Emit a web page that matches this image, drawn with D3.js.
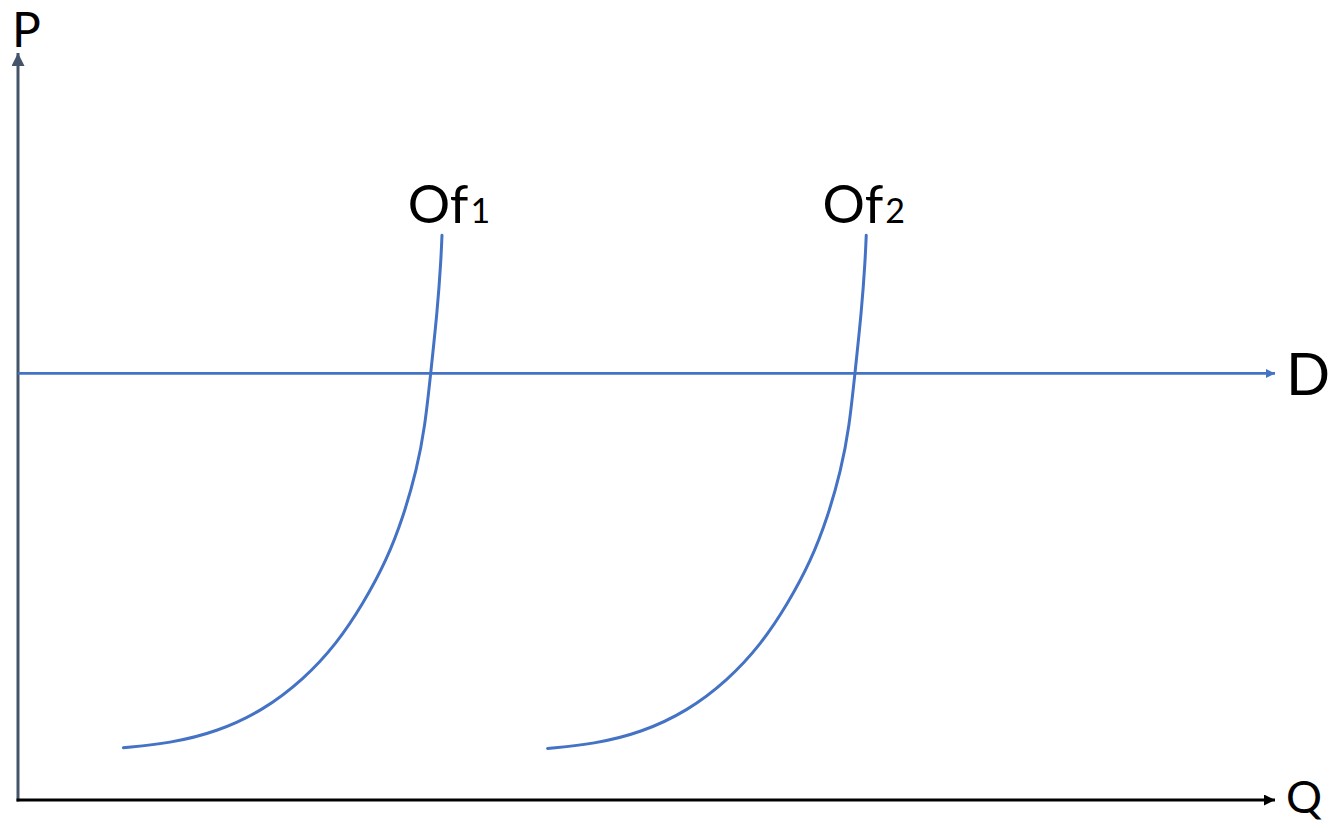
<!DOCTYPE html>
<html>
<head>
<meta charset="utf-8">
<script src="https://cdn.jsdelivr.net/npm/d3@7"></script>
<style>
  body { margin: 0; background: #fff; }
  text { font-family: Lato, "Open Sans", sans-serif; fill: #000; }
</style>
</head>
<body>
<svg id="chart" width="1334" height="826"></svg>
<script>
// values (arbitrary units, 0-100 on both axes)
const demandPrice = 57.1
const supplyNames = ["Of", "Of"]
const supplySubs = ["1", "2"]
const labelQ = [31.0, 64.0]
const labelP = [77.3, 77.3]
const of1Q = [8.38, 12.09, 15.81, 19.51, 22.70, 25.35, 27.47, 29.33, 30.65, 31.72, 32.38, 32.83, 33.37, 33.65, 33.73]
const of1P = [7.0, 7.6, 9.1, 12.0, 16.1, 20.9, 26.3, 32.1, 37.9, 44.2, 50.0, 57.1, 65.6, 72.3, 75.6]
const of2Q = [42.13, 45.84, 49.56, 53.26, 56.45, 59.10, 61.22, 63.08, 64.40, 65.47, 66.13, 66.58, 67.12, 67.40, 67.48]
const of2P = [6.9, 7.5, 9.0, 11.9, 16.0, 20.8, 26.2, 32.0, 37.8, 44.1, 49.9, 57.1, 65.6, 72.3, 75.6]
const axisLabels = ["P", "Q", "D"]

const svg = d3.select('#chart')
const blue = '#4472C4'
const slate = '#44546A'

const x = d3.scaleLinear().domain([0, 100]).range([18, 1275])
const y = d3.scaleLinear().domain([0, 100]).range([800, 53])

// arrow heads
const defs = svg.append('defs')
function marker(id, color, w, h) {
	defs.append('marker')
		.attr('id', id)
		.attr('viewBox', '0 0 10 10')
		.attr('refX', 10)
		.attr('refY', 5)
		.attr('markerUnits', 'userSpaceOnUse')
		.attr('markerWidth', w)
		.attr('markerHeight', h)
		.attr('orient', 'auto')
		.append('path')
		.attr('d', 'M0,0 L10,5 L0,10 Z')
		.attr('fill', color)
}
marker('arrY', slate, 16, 13)
marker('arrX', '#000', 14, 11)
marker('arrD', blue, 13, 9)

// axes
svg.append('line')
	.attr('x1', x(0)).attr('y1', y(0) + 1.5)
	.attr('x2', x(0)).attr('y2', y(100))
	.attr('stroke', slate).attr('stroke-width', 3)
	.attr('marker-end', 'url(#arrY)')
svg.append('line')
	.attr('x1', x(0) - 1.5).attr('y1', y(0))
	.attr('x2', x(100)).attr('y2', y(0))
	.attr('stroke', '#000').attr('stroke-width', 3)
	.attr('marker-end', 'url(#arrX)')

// demand line
svg.append('line')
	.attr('x1', x(0)).attr('y1', y(demandPrice))
	.attr('x2', x(100)).attr('y2', y(demandPrice))
	.attr('stroke', blue).attr('stroke-width', 2.8)
	.attr('marker-end', 'url(#arrD)')

// supply curves (basis smooths out reading noise)
const line = d3.line()
	.x(d => x(d[0]))
	.y(d => y(d[1]))
	.curve(d3.curveBasis)

const curves = [d3.zip(of1Q, of1P), d3.zip(of2Q, of2P)]
svg.selectAll('.supply')
	.data(curves)
	.join('path')
	.attr('class', 'supply')
	.attr('fill', 'none')
	.attr('stroke', blue)
	.attr('stroke-width', 3)
	.attr('stroke-linecap', 'round')
	.attr('d', line)

// curve labels
supplyNames.forEach((name, i) => {
	const t = svg.append('text')
		.attr('x', x(labelQ[i]))
		.attr('y', y(labelP[i]))
		.attr('font-size', 53)
		.text(name)
	t.append('tspan')
		.attr('dx', 2)
		.attr('font-size', 34)
		.text(supplySubs[i])
})

// axis labels
svg.append('text').attr('x', 12).attr('y', 47).attr('font-size', 48).text(axisLabels[0])
svg.append('text').attr('x', 1286).attr('y', 813).attr('font-size', 45).text(axisLabels[1])
svg.append('text').attr('x', 1286).attr('y', 395).attr('font-size', 58).text(axisLabels[2])
</script>
</body>
</html>
